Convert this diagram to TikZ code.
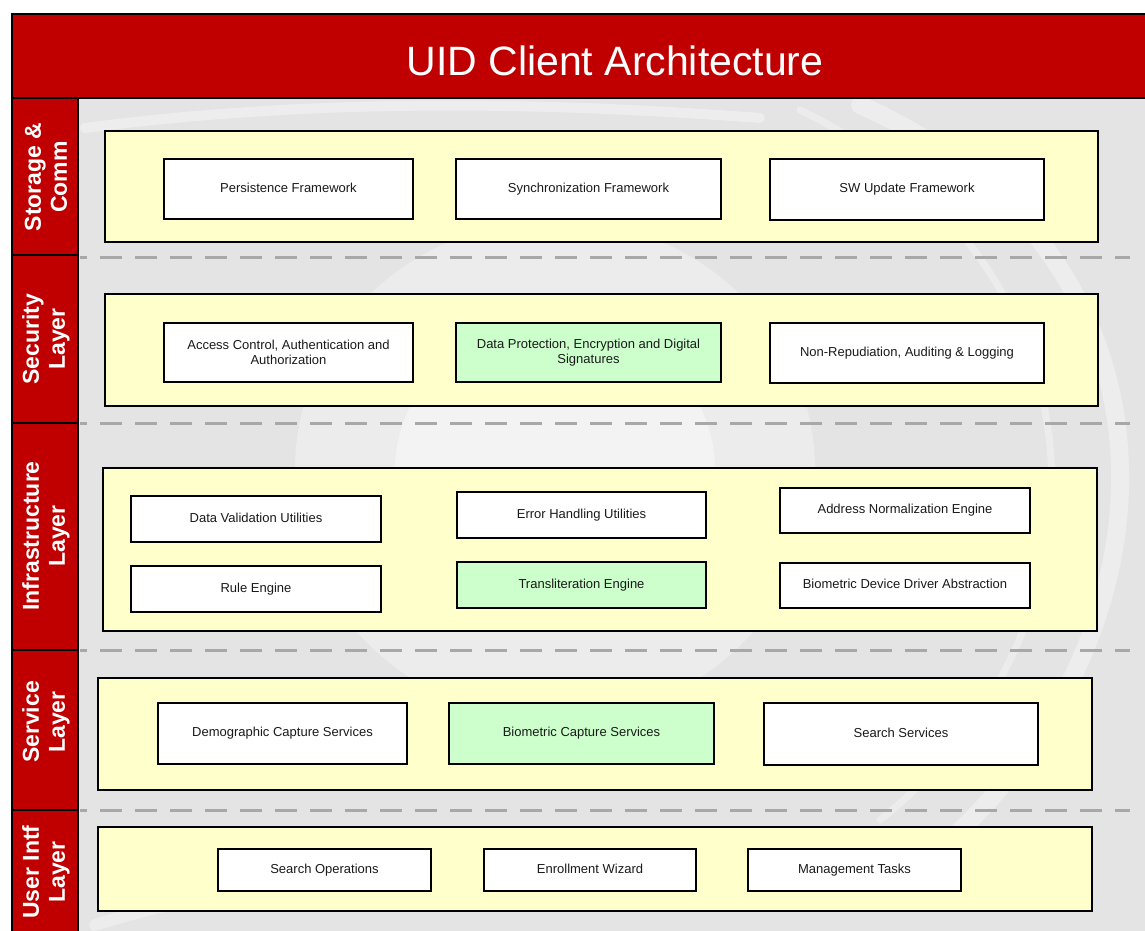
\documentclass[tikz,border=0pt]{standalone}
\usepackage{fontspec}
\setmainfont{Liberation Sans}
\definecolor{barred}{HTML}{C00000}
\definecolor{panelyellow}{HTML}{FFFFCC}
\definecolor{compgreen}{HTML}{CCFFCC}
\definecolor{bggray}{HTML}{E4E4E4}
\definecolor{dashgray}{HTML}{A8A8A8}
\definecolor{textgray}{HTML}{1A1A1A}
% place a named rectangle node by its two corners
\newcommand\blk[6]{\node[#1,minimum width={(#4)-(#2)},minimum height={(#5)-(#3)}]
  at ({((#2)+(#4))/2},{((#3)+(#5))/2}) {#6};}
\begin{document}
\begin{tikzpicture}[x=1pt,y=-1pt,
  panel/.style={draw=black,line width=1.8pt,fill=panelyellow,inner sep=0pt},
  comp/.style={draw=black,line width=1.8pt,fill=white,text=textgray,
    font=\fontsize{13}{15.5}\selectfont,align=center,inner sep=0pt},
  compg/.style={comp,fill=compgreen},
  oneline/.style={text height=9.5pt,text depth=3pt},
  cell/.style={draw=black,line width=2.6pt,fill=barred},
  layerlabel/.style={rotate=90,text=white,align=center,
    font=\bfseries\fontsize{23}{26}\selectfont},
  sep/.style={draw=dashgray,line width=3pt,dash pattern=on 22pt off 13pt,dash phase=15pt},
  swirl/.style={draw=white,line cap=round}]
\useasboundingbox (0,0) rectangle (1145,930);
\begin{scope}
\clip (0,0) rectangle (1145,930);
% page background and soft swirl
\fill[white] (0,0) rectangle (1145,930);
\fill[bggray] (78,98) rectangle (1150,935);
\fill[white,opacity=0.4] (555,470) ellipse (160pt and 150pt);
\fill[white,opacity=0.3] (555,470) ellipse (260pt and 250pt);
\draw[swirl,opacity=0.35,line width=18pt] (860,105) .. controls (1190,250) and (1190,620) .. (950,840);
\draw[swirl,opacity=0.3,line width=7pt] (800,110) .. controls (1110,260) and (1130,620) .. (880,820);
\draw[swirl,opacity=0.35,line width=10pt] (85,128) .. controls (300,100) and (520,100) .. (760,118);
\draw[swirl,opacity=0.3,line width=12pt] (95,925) .. controls (300,860) and (600,850) .. (900,880);
% layer separators
\draw[sep] (80,257) -- (1130,257);
\draw[sep] (80,423) -- (1130,423);
\draw[sep] (80,650) -- (1130,650);
\draw[sep] (80,810) -- (1130,810);
% layer panels
\blk{panel,name=pstore}{105}{131}{1098}{242}{}
\blk{panel,name=psec}{105}{294}{1098}{406}{}
\blk{panel,name=pinfra}{103}{468}{1097}{631}{}
\blk{panel,name=pserv}{98}{678}{1092}{790}{}
\blk{panel,name=pui}{98}{827}{1092}{911}{}
% storage & communication
\blk{comp,oneline,name=persist}{164}{159}{413}{219}{Persistence Framework}
\blk{comp,oneline,name=sync}{456}{159}{721}{219}{Synchronization Framework}
\blk{comp,oneline,name=swupd}{770}{159}{1044}{220}{SW Update Framework}
% security
\blk{comp,name=access}{164}{323}{413}{382}{Access Control, Authentication and\\Authorization}
\blk{compg,name=protect}{456}{323}{721}{382}{Data Protection, Encryption and Digital\\Signatures}
\blk{comp,oneline,name=nonrep}{770}{323}{1044}{383}{Non-Repudiation, Auditing \& Logging}
% infrastructure
\blk{comp,oneline,name=valid}{131}{496}{381}{542}{Data Validation Utilities}
\blk{comp,oneline,name=errh}{457}{492}{706}{538}{Error Handling Utilities}
\blk{comp,oneline,name=addr}{780}{488}{1030}{533}{Address Normalization Engine}
\blk{comp,oneline,name=rule}{131}{566}{381}{612}{Rule Engine}
\blk{compg,oneline,name=translit}{457}{562}{706}{608}{Transliteration Engine}
\blk{comp,oneline,name=biodrv}{780}{563}{1030}{608}{Biometric Device Driver Abstraction}
% services
\blk{comp,oneline,name=demo}{158}{703}{407}{764}{Demographic Capture Services}
\blk{compg,oneline,name=biocap}{449}{703}{714}{764}{Biometric Capture Services}
\blk{comp,oneline,name=search}{764}{703}{1038}{765}{Search Services}
% user interface
\blk{comp,oneline,name=searchops}{218}{849}{431}{891}{Search Operations}
\blk{comp,oneline,name=enroll}{484}{849}{696}{891}{Enrollment Wizard}
\blk{comp,oneline,name=mgmt}{748}{849}{961}{891}{Management Tasks}
% layer column
\draw[cell] (12,98) rectangle (78,255);
\draw[cell] (12,255) rectangle (78,423);
\draw[cell] (12,423) rectangle (78,650);
\draw[cell] (12,650) rectangle (78,810);
\draw[cell] (12,810) rectangle (78,945);
\node[layerlabel] (lstore) at (46,177) {Storage \&\\Comm};
\node[layerlabel] (lsec) at (46,339) {Security\\Layer};
\node[layerlabel] (linfra) at (46,536) {Infrastructure\\Layer};
\node[layerlabel] (lserv) at (46,722) {Service\\Layer};
\node[layerlabel] (lui) at (46,872) {User Intf\\Layer};
% title bar
\draw[cell] (12,14) rectangle (1160,98);
\node[text=white,font=\fontsize{41}{48}\selectfont] (title) at (615,61) {UID Client Architecture};
\end{scope}
\end{tikzpicture}
\end{document}
